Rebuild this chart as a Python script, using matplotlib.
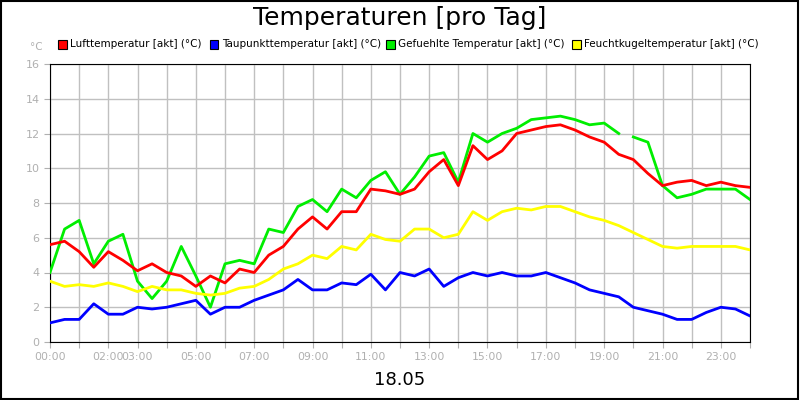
import numpy as np
import matplotlib
matplotlib.use("Agg")
import matplotlib.pyplot as plt
from matplotlib.patches import Rectangle

hours = np.arange(0, 24.01, 0.5)
luft = [5.6,5.8,5.2,4.3,5.2,4.7,4.1,4.5,4.0,3.8,3.2,3.8,3.4,4.2,4.0,5.0,5.5,6.5,7.2,6.5,7.5,7.5,8.8,8.7,8.5,8.8,9.8,10.5,9.0,11.3,10.5,11.0,12.0,12.2,12.4,12.5,12.2,11.8,11.5,10.8,10.5,9.7,9.0,9.2,9.3,9.0,9.2,9.0,8.9]
gefuehlt = [4.0,6.5,7.0,4.5,5.8,6.2,3.5,2.5,3.5,5.5,3.8,2.0,4.5,4.7,4.5,6.5,6.3,7.8,8.2,7.5,8.8,8.3,9.3,9.8,8.5,9.5,10.7,10.9,9.2,12.0,11.5,12.0,12.3,12.8,12.9,13.0,12.8,12.5,12.6,12.0,11.8,11.5,9.0,8.3,8.5,8.8,8.8,8.8,8.2]
feucht = [3.5,3.2,3.3,3.2,3.4,3.2,2.9,3.2,3.0,3.0,2.8,2.7,2.8,3.1,3.2,3.6,4.2,4.5,5.0,4.8,5.5,5.3,6.2,5.9,5.8,6.5,6.5,6.0,6.2,7.5,7.0,7.5,7.7,7.6,7.8,7.8,7.5,7.2,7.0,6.7,6.3,5.9,5.5,5.4,5.5,5.5,5.5,5.5,5.3]
taupunkt = [1.1,1.3,1.3,2.2,1.6,1.6,2.0,1.9,2.0,2.2,2.4,1.6,2.0,2.0,2.4,2.7,3.0,3.6,3.0,3.0,3.4,3.3,3.9,3.0,4.0,3.8,4.2,3.2,3.7,4.0,3.8,4.0,3.8,3.8,4.0,3.7,3.4,3.0,2.8,2.6,2.0,1.8,1.6,1.3,1.3,1.7,2.0,1.9,1.5]
gap_hour = 19.8
tick_hours = [0, 2, 3, 5, 7, 9, 11, 13, 15, 17, 19, 21, 23]
tick_labels = ["00:00","02:00","03:00","05:00","07:00","09:00","11:00","13:00","15:00","17:00","19:00","21:00","23:00"]
names = ["Lufttemperatur [akt] (°C)", "Taupunkttemperatur [akt] (°C)", "Gefuehlte Temperatur [akt] (°C)", "Feuchtkugeltemperatur [akt] (°C)"]
colors = ["#ff0000", "#0000ff", "#00ee00", "#ffff00"]

fig = plt.figure(figsize=(8, 4), dpi=100)
fig.patches.append(Rectangle((0.001, 0.002), 0.997, 0.996, transform=fig.transFigure, fill=False, edgecolor="black", lw=1.5))
ax = fig.add_axes([0.0625, 0.145, 0.875, 0.695])

gh = np.insert(hours, 40, gap_hour)
gv = np.insert(np.array(gefuehlt, float), 40, np.nan)

ax.plot(hours, luft, color=colors[0], lw=2, zorder=4)
ax.plot(gh, gv, color=colors[2], lw=2, zorder=3)
ax.plot(hours, feucht, color=colors[3], lw=2, zorder=3)
ax.plot(hours, taupunkt, color=colors[1], lw=2, zorder=3)

ax.set_xlim(0, 24)
ax.set_ylim(0, 16)
ax.set_yticks(range(0, 17, 2))
ax.set_xticks(range(0, 25))
ax.grid(True, color="#c0c0c0", lw=1)
ax.set_xticklabels([])
for h, l in zip(tick_hours, tick_labels):
    ax.text(h, -0.55, l, ha="center", va="top", color="#b0b0b0", fontsize=7.8)
ax.tick_params(axis="y", colors="#b0b0b0", labelsize=8, length=4)
ax.tick_params(axis="x", colors="#b0b0b0", length=4)
for s in ax.spines.values():
    s.set_color("black")

fig.text(0.5, 0.955, "Temperaturen [pro Tag]", ha="center", va="center", fontsize=18)
fig.text(0.5, 0.05, "18.05", ha="center", va="center", fontsize=13)
fig.text(0.037, 0.882, "°C", ha="left", va="center", fontsize=7.5, color="#b0b0b0")

xs = [0.073, 0.262, 0.483, 0.715]
for x, n, c in zip(xs, names, colors):
    fig.patches.append(Rectangle((x, 0.878), 0.011, 0.022, transform=fig.transFigure, facecolor=c, edgecolor="black", lw=0.8))
    fig.text(x + 0.015, 0.889, n, ha="left", va="center", fontsize=7.5)

fig.savefig("out.png", dpi=100)
